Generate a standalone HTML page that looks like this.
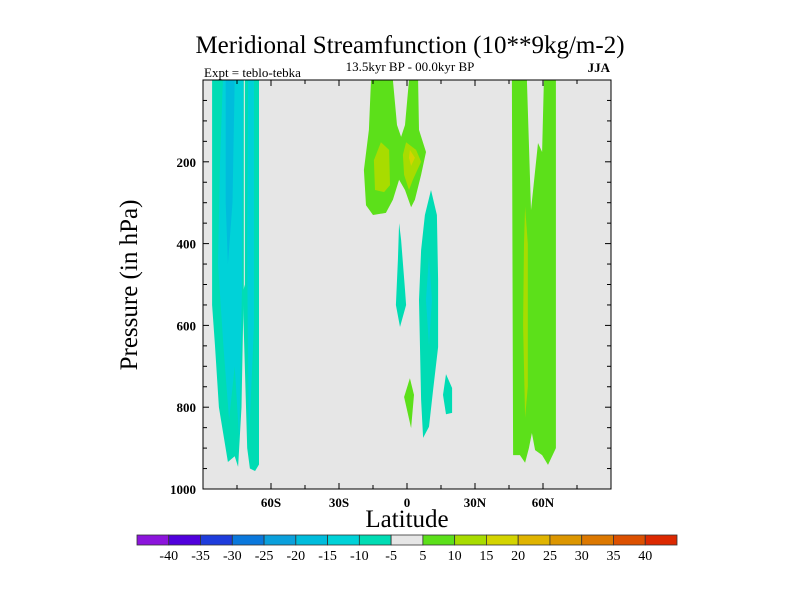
<!DOCTYPE html>
<html><head><meta charset="utf-8"><style>
html,body{margin:0;padding:0;background:#fff;}
svg{display:block;font-family:"Liberation Serif",serif;}
</style></head><body>
<svg id="chart" width="800" height="600" viewBox="0 0 800 600">
<text x="410" y="53" text-anchor="middle" font-size="25">Meridional Streamfunction (10**9kg/m-2)</text>
<text x="410" y="71" text-anchor="middle" font-size="13">13.5kyr BP - 00.0kyr BP</text>
<text x="204" y="77" font-size="13">Expt = teblo-tebka</text>
<text x="610" y="72" text-anchor="end" font-size="13" font-weight="bold">JJA</text>
<rect x="203" y="80" width="408" height="409" fill="#e6e6e6"/>
<g id="fields"></g>
<rect x="203" y="80" width="408" height="409" fill="none" stroke="#000" stroke-width="1"/>
<g id="axes"></g>
<text x="407" y="527" text-anchor="middle" font-size="25">Latitude</text>
<text transform="translate(137,285) rotate(-90)" text-anchor="middle" font-size="25">Pressure (in hPa)</text>
<g id="colorbar"></g>
</svg>
<script>
const latTicks=[-60,-30,0,30,60];
const latTickLabels=["60S","30S","0","30N","60N"];
const presTicks=[200,400,600,800,1000];
const levelLabels=[-40,-35,-30,-25,-20,-15,-10,-5,5,10,15,20,25,30,35,40];
const levelColors=["#8c14dc","#5000dc","#1e3cdc","#0a78dc","#0aa0dc","#00bcdc","#00d2d8","#00dcb4","#e6e6e6","#5ce01a","#a8dc00","#d4d400","#e0b400","#dc9600","#dc7800","#dc5000","#dc2800"];
// contour polygons: [lat, pressure] and level index into levelColors
const polyNeg10a=[[-86,0],[-72,0],[-72,500],[-73,800],[-74.5,946],[-76,920],[-79,934],[-83,800],[-84.7,650],[-86,550]];
const polyNeg10b=[[-71.5,0],[-65.3,0],[-65.3,940],[-67,956],[-69.3,950],[-70.5,900],[-72.5,520],[-71.5,500]];
const polyNeg15a=[[-81.2,0],[-72.3,0],[-72.8,500],[-74,880],[-76,700],[-78.5,831],[-81,650],[-83.4,450],[-82.5,200]];
const polyNeg15b=[[-70.1,0],[-67.5,0],[-67.5,600],[-69.7,880],[-70.3,600],[-70.5,400]];
const polyNeg20=[[-80,0],[-76,0],[-77,300],[-79,450],[-80,300]];
const polyEqGreen=[[-15.9,0],[-6.2,0],[-4.4,110],[-2.6,139],[-0.9,110],[0.9,0],[4.9,0],[5.3,122],[8.4,176],[6.2,232],[3.5,293],[1.8,311],[-0.9,269],[-3.5,244],[-6.2,293],[-9.3,325],[-15,330],[-18.1,306],[-19,220],[-16.8,122]];
const polyEqTen1=[[-11.5,152],[-7.9,171],[-7.5,257],[-10.1,274],[-14.1,269],[-14.6,196]];
const polyEqTen2=[[-0.4,152],[4,171],[6.2,200],[2.6,244],[0.9,269],[-1.3,232],[-1.8,183]];
const polyEqFifteen=[[1.3,171],[3.5,190],[1.8,210],[0.9,190]];
const polyCyanMidL=[[-3.5,350],[-2.6,391],[-0.9,513],[-0.4,550],[-3.1,604],[-4.9,550],[-4,440]];
const polyCyanMidR=[[10.6,269],[13.2,330],[13.7,489],[13.7,653],[11.5,758],[9.7,848],[7.1,875],[6.2,782],[5.3,538],[6.2,416],[7.9,330]];
const polyCyanMidInner=[[9.7,430],[11,538],[9.7,650],[8.4,538]];
const polyGreenDiamond=[[1.3,729],[3.1,770],[1.8,851],[-1.3,775]];
const polyCyanSmall=[[17.2,719],[19.9,753],[19.9,814],[17.2,817],[15.9,770]];
const polyNHGreen=[[46.3,0],[52.9,0],[54.7,318],[57.8,154],[59.6,176],[60.4,0],[65.7,0],[65.7,900],[62.2,941],[59.6,917],[56.5,905],[55.1,863],[53.8,900],[52.1,936],[49.8,917],[46.8,917]];
const polyNHTen=[[52.1,310],[53.3,400],[53.3,750],[52.1,826],[51.2,600],[51.6,400]];
const fieldPolys=[polyNeg10a,polyNeg10b,polyNeg15a,polyNeg15b,polyNeg20,polyEqGreen,polyEqTen1,polyEqTen2,polyEqFifteen,polyCyanMidL,polyCyanMidR,polyCyanMidInner,polyGreenDiamond,polyCyanSmall,polyNHGreen,polyNHTen];
const fieldLevels=[7,7,6,6,5,9,10,10,11,7,7,6,9,7,9,10];

const X0=203,X1=611,Y0=80,Y1=489;
function xScale(lat){return X0+(lat+90)/180*(X1-X0);}
function yScale(p){return Y0+p/1000*(Y1-Y0);}
const NS="http://www.w3.org/2000/svg";
const fields=document.getElementById('fields');
fieldPolys.forEach((pts,i)=>{
  const el=document.createElementNS(NS,'polygon');
  el.setAttribute('points',pts.map(d=>xScale(d[0]).toFixed(1)+','+yScale(d[1]).toFixed(1)).join(' '));
  el.setAttribute('fill',levelColors[fieldLevels[i]]);
  
  
  fields.appendChild(el);
});
const axes=document.getElementById('axes');
function line(x1,y1,x2,y2){
  const l=document.createElementNS(NS,'line');
  l.setAttribute('x1',x1);l.setAttribute('y1',y1);l.setAttribute('x2',x2);l.setAttribute('y2',y2);
  l.setAttribute('stroke','#000');l.setAttribute('stroke-width','1');
  
  
  axes.appendChild(l);
}
for(let lat=-75;lat<=75;lat+=15){
  const x=xScale(lat);const major=latTicks.includes(lat);const len=major?6:4;
  line(x,Y1,x,Y1-len);line(x,Y0,x,Y0+len);
}
for(let p=50;p<1000;p+=50){
  const y=yScale(p);const major=presTicks.includes(p);const len=major?6:4;
  line(X0,y,X0+len,y);line(X1,y,X1-len,y);
}
latTicks.forEach((lat,i)=>{
  const t=document.createElementNS(NS,'text');
  t.setAttribute('x',xScale(lat));t.setAttribute('y',Y1+18);
  t.setAttribute('text-anchor','middle');t.setAttribute('font-size','13');t.setAttribute('font-weight','bold');
  t.textContent=latTickLabels[i];
  
  
  axes.appendChild(t);
});
presTicks.forEach(p=>{
  const t=document.createElementNS(NS,'text');
  t.setAttribute('x',X0-7);t.setAttribute('y',yScale(p)+5);
  t.setAttribute('text-anchor','end');t.setAttribute('font-size','13');t.setAttribute('font-weight','bold');
  t.textContent=p;
  
  
  axes.appendChild(t);
});
const cb=document.getElementById('colorbar');
const CB0=137,CBW=540/17,CBY=535,CBH=10;
levelColors.forEach((c,i)=>{
  const r=document.createElementNS(NS,'rect');
  r.setAttribute('x',CB0+i*CBW);r.setAttribute('y',CBY);r.setAttribute('width',CBW);r.setAttribute('height',CBH);
  r.setAttribute('fill',c);r.setAttribute('stroke','#333');r.setAttribute('stroke-width','0.8');
  
  
  cb.appendChild(r);
});
levelLabels.forEach((v,i)=>{
  const t=document.createElementNS(NS,'text');
  t.setAttribute('x',CB0+(i+1)*CBW);t.setAttribute('y',CBY+CBH+15);
  t.setAttribute('text-anchor','middle');t.setAttribute('font-size','14');
  t.textContent=v;
  
  
  cb.appendChild(t);
});
</script>
</body></html>
